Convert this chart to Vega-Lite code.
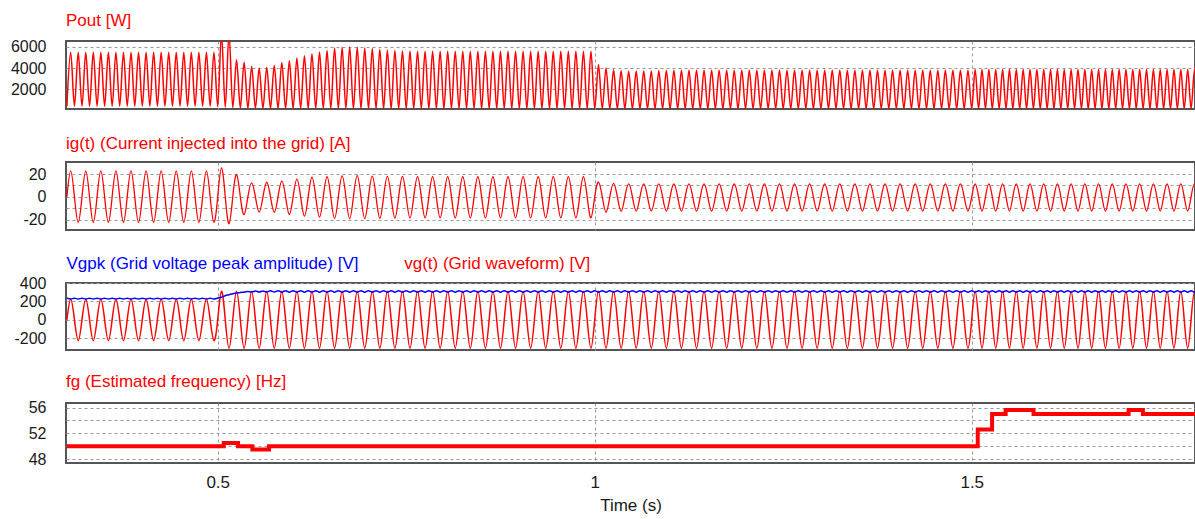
{
"$schema":"https://vega.github.io/schema/vega-lite/v6.json",
"padding":{"left":9,"top":10,"right":0,"bottom":4},
"background":"white",
"bounds":"flush",
"spacing":53,
"config":{
 "font":"Liberation Sans",
 "view":{"stroke":"#555","strokeWidth":2},
 "axis":{"gridColor":"#999","gridDash":[3,3],"gridWidth":1,"ticks":false,"domain":false,"labelFontSize":16,"labelColor":"#1a1a1a","labelPadding":20,"title":null},
 "title":{"anchor":"start","frame":"group","fontSize":17,"fontWeight":"normal","offset":9,"baseline":"alphabetic"}
},
"datasets":{
"s":[
{"t":0.3,"p":400,"i":0,"v":0,"g":234},{"t":0.305,"p":5500,"i":22.8,"v":222,"g":226},{"t":0.31,"p":400,"i":0,"v":0,"g":234},{"t":0.315,"p":5500,"i":-22.3,"v":-228,"g":226},
{"t":0.32,"p":400,"i":0,"v":0,"g":234},{"t":0.325,"p":5500,"i":22.8,"v":222,"g":226},{"t":0.33,"p":400,"i":0,"v":0,"g":234},{"t":0.335,"p":5500,"i":-22.3,"v":-228,"g":226},
{"t":0.34,"p":400,"i":0,"v":0,"g":234},{"t":0.345,"p":5500,"i":22.8,"v":222,"g":226},{"t":0.35,"p":400,"i":0,"v":0,"g":234},{"t":0.355,"p":5500,"i":-22.3,"v":-228,"g":226},
{"t":0.36,"p":400,"i":0,"v":0,"g":234},{"t":0.365,"p":5500,"i":22.8,"v":222,"g":226},{"t":0.37,"p":400,"i":0,"v":0,"g":234},{"t":0.375,"p":5500,"i":-22.3,"v":-228,"g":226},
{"t":0.38,"p":400,"i":0,"v":0,"g":234},{"t":0.385,"p":5500,"i":22.8,"v":222,"g":226},{"t":0.39,"p":400,"i":0,"v":0,"g":234},{"t":0.395,"p":5500,"i":-22.3,"v":-228,"g":226},
{"t":0.4,"p":400,"i":0,"v":0,"g":234},{"t":0.405,"p":5500,"i":22.8,"v":222,"g":226},{"t":0.41,"p":400,"i":0,"v":0,"g":234},{"t":0.415,"p":5500,"i":-22.3,"v":-228,"g":226},
{"t":0.42,"p":400,"i":0,"v":0,"g":234},{"t":0.425,"p":5500,"i":22.8,"v":222,"g":226},{"t":0.43,"p":400,"i":0,"v":0,"g":234},{"t":0.435,"p":5500,"i":-22.3,"v":-228,"g":226},
{"t":0.44,"p":400,"i":0,"v":0,"g":234},{"t":0.445,"p":5500,"i":22.8,"v":222,"g":226},{"t":0.45,"p":400,"i":0,"v":0,"g":234},{"t":0.455,"p":5500,"i":-22.3,"v":-228,"g":226},
{"t":0.46,"p":400,"i":0,"v":0,"g":234},{"t":0.465,"p":5500,"i":22.8,"v":222,"g":226},{"t":0.47,"p":400,"i":0,"v":0,"g":234},{"t":0.475,"p":5500,"i":-22.3,"v":-228,"g":226},
{"t":0.48,"p":400,"i":0,"v":0,"g":234},{"t":0.485,"p":5500,"i":22.8,"v":222,"g":226},{"t":0.49,"p":400,"i":0,"v":0,"g":234},{"t":0.495,"p":5500,"i":-22.3,"v":-228,"g":226},
{"t":0.5,"p":380,"i":0,"v":0,"g":236},{"t":0.505,"p":7300,"i":25.3,"v":310,"g":245},{"t":0.51,"p":300,"i":0,"v":0,"g":262},{"t":0.515,"p":7300,"i":-23.5,"v":-310,"g":272},
{"t":0.52,"p":250,"i":0,"v":0,"g":284},{"t":0.525,"p":4800,"i":19.5,"v":310,"g":290},{"t":0.53,"p":220,"i":0,"v":0,"g":297},{"t":0.535,"p":4550,"i":-15.5,"v":-310,"g":300},
{"t":0.54,"p":200,"i":0,"v":0,"g":308},{"t":0.545,"p":4160,"i":12.3,"v":310,"g":302},{"t":0.55,"p":200,"i":0,"v":0,"g":312},{"t":0.555,"p":4000,"i":-13.4,"v":-310,"g":302},
{"t":0.56,"p":200,"i":0,"v":0,"g":314},{"t":0.565,"p":4070,"i":12.8,"v":310,"g":301},{"t":0.57,"p":200,"i":0,"v":0,"g":315},{"t":0.575,"p":4260,"i":-13.5,"v":-310,"g":301},
{"t":0.58,"p":190,"i":0,"v":0,"g":316},{"t":0.585,"p":4540,"i":13.7,"v":310,"g":300},{"t":0.59,"p":190,"i":0,"v":0,"g":316},{"t":0.595,"p":4700,"i":-15.5,"v":-310,"g":300},
{"t":0.6,"p":180,"i":0,"v":0,"g":316},{"t":0.605,"p":4950,"i":15.5,"v":310,"g":300},{"t":0.61,"p":180,"i":0,"v":0,"g":316},{"t":0.615,"p":5180,"i":-16.9,"v":-310,"g":300},
{"t":0.62,"p":180,"i":0,"v":0,"g":316},{"t":0.625,"p":5370,"i":17.2,"v":310,"g":300},{"t":0.63,"p":180,"i":0,"v":0,"g":316},{"t":0.635,"p":5520,"i":-17.8,"v":-310,"g":300},
{"t":0.64,"p":180,"i":0,"v":0,"g":316},{"t":0.645,"p":5660,"i":17.6,"v":310,"g":300},{"t":0.65,"p":180,"i":0,"v":0,"g":316},{"t":0.655,"p":5900,"i":-19,"v":-310,"g":300},
{"t":0.66,"p":170,"i":0,"v":0,"g":316},{"t":0.665,"p":5970,"i":18.3,"v":310,"g":300},{"t":0.67,"p":170,"i":0,"v":0,"g":316},{"t":0.675,"p":6000,"i":-19.2,"v":-310,"g":300},
{"t":0.68,"p":160,"i":0,"v":0,"g":316},{"t":0.685,"p":5970,"i":18.5,"v":310,"g":300},{"t":0.69,"p":160,"i":0,"v":0,"g":316},{"t":0.695,"p":5900,"i":-19,"v":-310,"g":300},
{"t":0.7,"p":150,"i":0,"v":0,"g":316},{"t":0.705,"p":5850,"i":18.2,"v":310,"g":300},{"t":0.71,"p":150,"i":0,"v":0,"g":316},{"t":0.715,"p":5780,"i":-18.8,"v":-310,"g":300},
{"t":0.72,"p":150,"i":0,"v":0,"g":316},{"t":0.725,"p":5720,"i":18,"v":310,"g":300},{"t":0.73,"p":150,"i":0,"v":0,"g":316},{"t":0.735,"p":5680,"i":-18.6,"v":-310,"g":300},
{"t":0.74,"p":150,"i":0,"v":0,"g":316},{"t":0.745,"p":5650,"i":17.8,"v":310,"g":300},{"t":0.75,"p":150,"i":0,"v":0,"g":316},{"t":0.755,"p":5630,"i":-18.5,"v":-310,"g":300},
{"t":0.76,"p":150,"i":0,"v":0,"g":316},{"t":0.765,"p":5600,"i":17.6,"v":310,"g":300},{"t":0.77,"p":150,"i":0,"v":0,"g":316},{"t":0.775,"p":5600,"i":-18.4,"v":-310,"g":300},
{"t":0.78,"p":150,"i":0,"v":0,"g":316},{"t":0.785,"p":5600,"i":17.6,"v":310,"g":300},{"t":0.79,"p":150,"i":0,"v":0,"g":316},{"t":0.795,"p":5600,"i":-18.4,"v":-310,"g":300},
{"t":0.8,"p":150,"i":0,"v":0,"g":316},{"t":0.805,"p":5600,"i":17.6,"v":310,"g":300},{"t":0.81,"p":150,"i":0,"v":0,"g":316},{"t":0.815,"p":5600,"i":-18.4,"v":-310,"g":300},
{"t":0.82,"p":150,"i":0,"v":0,"g":316},{"t":0.825,"p":5600,"i":17.6,"v":310,"g":300},{"t":0.83,"p":150,"i":0,"v":0,"g":316},{"t":0.835,"p":5600,"i":-18.4,"v":-310,"g":300},
{"t":0.84,"p":150,"i":0,"v":0,"g":316},{"t":0.845,"p":5600,"i":17.6,"v":310,"g":300},{"t":0.85,"p":150,"i":0,"v":0,"g":316},{"t":0.855,"p":5600,"i":-18.4,"v":-310,"g":300},
{"t":0.86,"p":150,"i":0,"v":0,"g":316},{"t":0.865,"p":5600,"i":17.6,"v":310,"g":300},{"t":0.87,"p":150,"i":0,"v":0,"g":316},{"t":0.875,"p":5600,"i":-18.4,"v":-310,"g":300},
{"t":0.88,"p":150,"i":0,"v":0,"g":316},{"t":0.885,"p":5600,"i":17.6,"v":310,"g":300},{"t":0.89,"p":150,"i":0,"v":0,"g":316},{"t":0.895,"p":5600,"i":-18.4,"v":-310,"g":300},
{"t":0.9,"p":150,"i":0,"v":0,"g":316},{"t":0.905,"p":5600,"i":17.6,"v":310,"g":300},{"t":0.91,"p":150,"i":0,"v":0,"g":316},{"t":0.915,"p":5600,"i":-18.4,"v":-310,"g":300},
{"t":0.92,"p":150,"i":0,"v":0,"g":316},{"t":0.925,"p":5600,"i":17.6,"v":310,"g":300},{"t":0.93,"p":150,"i":0,"v":0,"g":316},{"t":0.935,"p":5600,"i":-18.4,"v":-310,"g":300},
{"t":0.94,"p":150,"i":0,"v":0,"g":316},{"t":0.945,"p":5600,"i":17.6,"v":310,"g":300},{"t":0.95,"p":150,"i":0,"v":0,"g":316},{"t":0.955,"p":5600,"i":-18.4,"v":-310,"g":300},
{"t":0.96,"p":150,"i":0,"v":0,"g":316},{"t":0.965,"p":5600,"i":17.6,"v":310,"g":300},{"t":0.97,"p":150,"i":0,"v":0,"g":316},{"t":0.975,"p":5600,"i":-18.4,"v":-310,"g":300},
{"t":0.98,"p":150,"i":0,"v":0,"g":316},{"t":0.985,"p":5600,"i":17.6,"v":310,"g":300},{"t":0.99,"p":150,"i":0,"v":0,"g":316},{"t":0.995,"p":5600,"i":-18.4,"v":-310,"g":300},
{"t":1,"p":150,"i":0,"v":0,"g":316},{"t":1.005,"p":4320,"i":12.8,"v":310,"g":300},{"t":1.01,"p":150,"i":0,"v":0,"g":316},{"t":1.015,"p":4000,"i":-13.5,"v":-310,"g":300},
{"t":1.02,"p":150,"i":0,"v":0,"g":316},{"t":1.025,"p":3840,"i":11.8,"v":310,"g":300},{"t":1.03,"p":150,"i":0,"v":0,"g":316},{"t":1.035,"p":3750,"i":-12.6,"v":-310,"g":300},
{"t":1.04,"p":150,"i":0,"v":0,"g":316},{"t":1.045,"p":3700,"i":11.4,"v":310,"g":300},{"t":1.05,"p":150,"i":0,"v":0,"g":316},{"t":1.055,"p":3700,"i":-12.4,"v":-310,"g":300},
{"t":1.06,"p":150,"i":0,"v":0,"g":316},{"t":1.065,"p":3720,"i":11.4,"v":310,"g":300},{"t":1.07,"p":150,"i":0,"v":0,"g":316},{"t":1.075,"p":3740,"i":-12.4,"v":-310,"g":300},
{"t":1.08,"p":150,"i":0,"v":0,"g":316},{"t":1.085,"p":3760,"i":11.4,"v":310,"g":300},{"t":1.09,"p":150,"i":0,"v":0,"g":316},{"t":1.095,"p":3780,"i":-12.4,"v":-310,"g":300},
{"t":1.1,"p":150,"i":0,"v":0,"g":316},{"t":1.105,"p":3800,"i":11.4,"v":310,"g":300},{"t":1.11,"p":150,"i":0,"v":0,"g":316},{"t":1.115,"p":3800,"i":-12.4,"v":-310,"g":300},
{"t":1.12,"p":150,"i":0,"v":0,"g":316},{"t":1.125,"p":3800,"i":11.4,"v":310,"g":300},{"t":1.13,"p":150,"i":0,"v":0,"g":316},{"t":1.135,"p":3800,"i":-12.4,"v":-310,"g":300},
{"t":1.14,"p":150,"i":0,"v":0,"g":316},{"t":1.145,"p":3800,"i":11.4,"v":310,"g":300},{"t":1.15,"p":150,"i":0,"v":0,"g":316},{"t":1.155,"p":3800,"i":-12.4,"v":-310,"g":300},
{"t":1.16,"p":150,"i":0,"v":0,"g":316},{"t":1.165,"p":3800,"i":11.4,"v":310,"g":300},{"t":1.17,"p":150,"i":0,"v":0,"g":316},{"t":1.175,"p":3800,"i":-12.4,"v":-310,"g":300},
{"t":1.18,"p":150,"i":0,"v":0,"g":316},{"t":1.185,"p":3800,"i":11.4,"v":310,"g":300},{"t":1.19,"p":150,"i":0,"v":0,"g":316},{"t":1.195,"p":3800,"i":-12.4,"v":-310,"g":300},
{"t":1.2,"p":150,"i":0,"v":0,"g":316},{"t":1.205,"p":3800,"i":11.4,"v":310,"g":300},{"t":1.21,"p":150,"i":0,"v":0,"g":316},{"t":1.215,"p":3800,"i":-12.4,"v":-310,"g":300},
{"t":1.22,"p":150,"i":0,"v":0,"g":316},{"t":1.225,"p":3800,"i":11.4,"v":310,"g":300},{"t":1.23,"p":150,"i":0,"v":0,"g":316},{"t":1.235,"p":3800,"i":-12.4,"v":-310,"g":300},
{"t":1.24,"p":150,"i":0,"v":0,"g":316},{"t":1.245,"p":3800,"i":11.4,"v":310,"g":300},{"t":1.25,"p":150,"i":0,"v":0,"g":316},{"t":1.255,"p":3800,"i":-12.4,"v":-310,"g":300},
{"t":1.26,"p":150,"i":0,"v":0,"g":316},{"t":1.265,"p":3800,"i":11.4,"v":310,"g":300},{"t":1.27,"p":150,"i":0,"v":0,"g":316},{"t":1.275,"p":3800,"i":-12.4,"v":-310,"g":300},
{"t":1.28,"p":150,"i":0,"v":0,"g":316},{"t":1.285,"p":3800,"i":11.4,"v":310,"g":300},{"t":1.29,"p":150,"i":0,"v":0,"g":316},{"t":1.295,"p":3800,"i":-12.4,"v":-310,"g":300},
{"t":1.3,"p":150,"i":0,"v":0,"g":316},{"t":1.305,"p":3800,"i":11.4,"v":310,"g":300},{"t":1.31,"p":150,"i":0,"v":0,"g":316},{"t":1.315,"p":3800,"i":-12.4,"v":-310,"g":300},
{"t":1.32,"p":150,"i":0,"v":0,"g":316},{"t":1.325,"p":3800,"i":11.4,"v":310,"g":300},{"t":1.33,"p":150,"i":0,"v":0,"g":316},{"t":1.335,"p":3800,"i":-12.4,"v":-310,"g":300},
{"t":1.34,"p":150,"i":0,"v":0,"g":316},{"t":1.345,"p":3800,"i":11.4,"v":310,"g":300},{"t":1.35,"p":150,"i":0,"v":0,"g":316},{"t":1.355,"p":3800,"i":-12.4,"v":-310,"g":300},
{"t":1.36,"p":150,"i":0,"v":0,"g":316},{"t":1.365,"p":3800,"i":11.4,"v":310,"g":300},{"t":1.37,"p":150,"i":0,"v":0,"g":316},{"t":1.375,"p":3800,"i":-12.4,"v":-310,"g":300},
{"t":1.38,"p":150,"i":0,"v":0,"g":316},{"t":1.385,"p":3800,"i":11.4,"v":310,"g":300},{"t":1.39,"p":150,"i":0,"v":0,"g":316},{"t":1.395,"p":3800,"i":-12.4,"v":-310,"g":300},
{"t":1.4,"p":150,"i":0,"v":0,"g":316},{"t":1.405,"p":3800,"i":11.4,"v":310,"g":300},{"t":1.41,"p":150,"i":0,"v":0,"g":316},{"t":1.415,"p":3800,"i":-12.4,"v":-310,"g":300},
{"t":1.42,"p":150,"i":0,"v":0,"g":316},{"t":1.425,"p":3800,"i":11.4,"v":310,"g":300},{"t":1.43,"p":150,"i":0,"v":0,"g":316},{"t":1.435,"p":3800,"i":-12.4,"v":-310,"g":300},
{"t":1.44,"p":150,"i":0,"v":0,"g":316},{"t":1.445,"p":3800,"i":11.4,"v":310,"g":300},{"t":1.45,"p":150,"i":0,"v":0,"g":316},{"t":1.455,"p":3800,"i":-12.4,"v":-310,"g":300},
{"t":1.46,"p":150,"i":0,"v":0,"g":316},{"t":1.465,"p":3800,"i":11.4,"v":310,"g":300},{"t":1.47,"p":150,"i":0,"v":0,"g":316},{"t":1.475,"p":3800,"i":-12.4,"v":-310,"g":300},
{"t":1.48,"p":150,"i":0,"v":0,"g":316},{"t":1.485,"p":3800,"i":11.4,"v":310,"g":300},{"t":1.49,"p":150,"i":0,"v":0,"g":316},{"t":1.495,"p":3800,"i":-12.4,"v":-310,"g":300},
{"t":1.5,"p":150,"i":0,"v":0,"g":316},
{"t":1.5045,"p":3880,"i":11.4,"v":310,"g":300},{"t":1.5091,"p":150,"i":0,"v":0,"g":316},{"t":1.5136,"p":3880,"i":-12.4,"v":-310,"g":300},{"t":1.5182,"p":150,"i":0,"v":0,"g":316},
{"t":1.5227,"p":3880,"i":11.4,"v":310,"g":300},{"t":1.5273,"p":150,"i":0,"v":0,"g":316},{"t":1.5318,"p":3880,"i":-12.4,"v":-310,"g":300},{"t":1.5364,"p":150,"i":0,"v":0,"g":316},
{"t":1.5409,"p":3880,"i":11.4,"v":310,"g":300},{"t":1.5455,"p":150,"i":0,"v":0,"g":316},{"t":1.55,"p":3880,"i":-12.4,"v":-310,"g":300},{"t":1.5545,"p":150,"i":0,"v":0,"g":316},
{"t":1.5591,"p":3880,"i":11.4,"v":310,"g":300},{"t":1.5636,"p":150,"i":0,"v":0,"g":316},{"t":1.5682,"p":3880,"i":-12.4,"v":-310,"g":300},{"t":1.5727,"p":150,"i":0,"v":0,"g":316},
{"t":1.5773,"p":3880,"i":11.4,"v":310,"g":300},{"t":1.5818,"p":150,"i":0,"v":0,"g":316},{"t":1.5864,"p":3880,"i":-12.4,"v":-310,"g":300},{"t":1.5909,"p":150,"i":0,"v":0,"g":316},
{"t":1.5955,"p":3880,"i":11.4,"v":310,"g":300},{"t":1.6,"p":150,"i":0,"v":0,"g":316},{"t":1.6045,"p":3880,"i":-12.4,"v":-310,"g":300},{"t":1.6091,"p":150,"i":0,"v":0,"g":316},
{"t":1.6136,"p":3880,"i":11.4,"v":310,"g":300},{"t":1.6182,"p":150,"i":0,"v":0,"g":316},{"t":1.6227,"p":3880,"i":-12.4,"v":-310,"g":300},{"t":1.6273,"p":150,"i":0,"v":0,"g":316},
{"t":1.6318,"p":3880,"i":11.4,"v":310,"g":300},{"t":1.6364,"p":150,"i":0,"v":0,"g":316},{"t":1.6409,"p":3880,"i":-12.4,"v":-310,"g":300},{"t":1.6455,"p":150,"i":0,"v":0,"g":316},
{"t":1.65,"p":3880,"i":11.4,"v":310,"g":300},{"t":1.6545,"p":150,"i":0,"v":0,"g":316},{"t":1.6591,"p":3880,"i":-12.4,"v":-310,"g":300},{"t":1.6636,"p":150,"i":0,"v":0,"g":316},
{"t":1.6682,"p":3880,"i":11.4,"v":310,"g":300},{"t":1.6727,"p":150,"i":0,"v":0,"g":316},{"t":1.6773,"p":3880,"i":-12.4,"v":-310,"g":300},{"t":1.6818,"p":150,"i":0,"v":0,"g":316},
{"t":1.6864,"p":3880,"i":11.4,"v":310,"g":300},{"t":1.6909,"p":150,"i":0,"v":0,"g":316},{"t":1.6955,"p":3880,"i":-12.4,"v":-310,"g":300},{"t":1.7,"p":150,"i":0,"v":0,"g":316},
{"t":1.7045,"p":3880,"i":11.4,"v":310,"g":300},{"t":1.7091,"p":150,"i":0,"v":0,"g":316},{"t":1.7136,"p":3880,"i":-12.4,"v":-310,"g":300},{"t":1.7182,"p":150,"i":0,"v":0,"g":316},
{"t":1.7227,"p":3880,"i":11.4,"v":310,"g":300},{"t":1.7273,"p":150,"i":0,"v":0,"g":316},{"t":1.7318,"p":3880,"i":-12.4,"v":-310,"g":300},{"t":1.7364,"p":150,"i":0,"v":0,"g":316},
{"t":1.7409,"p":3880,"i":11.4,"v":310,"g":300},{"t":1.7455,"p":150,"i":0,"v":0,"g":316},{"t":1.75,"p":3880,"i":-12.4,"v":-310,"g":300},{"t":1.7545,"p":150,"i":0,"v":0,"g":316},
{"t":1.7591,"p":3880,"i":11.4,"v":310,"g":300},{"t":1.7636,"p":150,"i":0,"v":0,"g":316},{"t":1.7682,"p":3880,"i":-12.4,"v":-310,"g":300},{"t":1.7727,"p":150,"i":0,"v":0,"g":316},
{"t":1.7773,"p":3880,"i":11.4,"v":310,"g":300},{"t":1.7818,"p":150,"i":0,"v":0,"g":316},{"t":1.7864,"p":3880,"i":-12.4,"v":-310,"g":300},{"t":1.7909,"p":150,"i":0,"v":0,"g":316},
{"t":1.7955,"p":3880,"i":11.4,"v":310,"g":300},{"t":1.8,"p":150,"i":0,"v":0,"g":316}
],
"f":[
{"t":0.3,"f":50},{"t":0.508,"f":50.5},{"t":0.527,"f":50},{"t":0.546,"f":49.5},{"t":0.568,"f":50},{"t":1.508,"f":52.6},{"t":1.527,"f":55.0},{"t":1.545,"f":55.6},{"t":1.582,"f":55.0},{"t":1.708,"f":55.6},{"t":1.727,"f":55.0},{"t":1.8,"f":55.0}
]
},
"vconcat":[
{
 "title":{"text":"Pout [W]","color":"red"},
 "width":1129,"height":68,
 "data":{"name":"s"},
 "mark":{"type":"line","color":"red","strokeWidth":1.5,"interpolate":"monotone","clip":true},
 "encoding":{
  "x":{"field":"t","type":"quantitative","scale":{"domain":[0.2988,1.7961],"nice":false,"zero":false},"axis":{"values":[0.5,1,1.5],"labels":false}},
  "y":{"field":"p","type":"quantitative","scale":{"domain":[137,6567],"nice":false,"zero":false},"axis":{"values":[2000,4000,6000],"format":"d"}}
 }
},
{
 "title":{"text":"ig(t) (Current injected into the grid) [A]","color":"red"},
 "width":1129,"height":68,
 "data":{"name":"s"},
 "mark":{"type":"line","color":"red","strokeWidth":1.3,"interpolate":"natural","clip":true},
 "encoding":{
  "x":{"field":"t","type":"quantitative","scale":{"domain":[0.2988,1.7961],"nice":false,"zero":false},"axis":{"values":[0.5,1,1.5],"labels":false}},
  "y":{"field":"i","type":"quantitative","scale":{"domain":[-29,30.5],"nice":false,"zero":false},"axis":{"values":[-20,-10,0,10,20],"labelExpr":"datum.value % 20 === 0 ? '' + datum.value : ''"}}
 }
},
{
 "width":1129,"height":67,
 "data":{"name":"s"},
 "encoding":{
  "x":{"field":"t","type":"quantitative","scale":{"domain":[0.2988,1.7961],"nice":false,"zero":false},"axis":{"orient":"top","values":[0.5,1,1.5],"labels":false,"title":"Vgpk (Grid voltage peak amplitude) [V]","titleColor":"blue","titleFontSize":17,"titleFontWeight":"normal","titleAlign":"left","titleAnchor":"start","titleX":0,"titleY":-15,"titleBaseline":"alphabetic"}}
 },
 "layer":[
  {"mark":{"type":"line","color":"red","strokeWidth":1.5,"interpolate":"natural","clip":true},
   "encoding":{"y":{"field":"v","type":"quantitative","scale":{"domain":[-330,400],"nice":false,"zero":false},"axis":{"values":[-200,0,200,400],"labelExpr":"'' + datum.value","title":"vg(t) (Grid waveform) [V]","titleColor":"red","titleFontSize":17,"titleFontWeight":"normal","titleAngle":0,"titleAlign":"left","titleAnchor":"start","titleX":337.7,"titleY":-15,"titleBaseline":"alphabetic"}}}},
  {"mark":{"type":"line","color":"blue","strokeWidth":1.5,"interpolate":"monotone","clip":true},
   "encoding":{"y":{"field":"g","type":"quantitative","scale":{"domain":[-330,400],"nice":false,"zero":false},"axis":{"values":[-200,0,200,400],"labelExpr":"'' + datum.value","title":"vg(t) (Grid waveform) [V]","titleColor":"red","titleFontSize":17,"titleFontWeight":"normal","titleAngle":0,"titleAlign":"left","titleAnchor":"start","titleX":337.7,"titleY":-15,"titleBaseline":"alphabetic"}}}}
 ]
},
{
 "title":{"text":"fg (Estimated frequency) [Hz]","color":"red"},
 "width":1129,"height":60,
 "data":{"name":"f"},
 "mark":{"type":"line","color":"red","strokeWidth":4,"interpolate":"step-after","clip":true},
 "encoding":{
  "x":{"field":"t","type":"quantitative","scale":{"domain":[0.2988,1.7961],"nice":false,"zero":false},"axis":{"values":[0.5,1,1.5],"format":"~g","labelFontSize":17,"labelPadding":11,"title":"Time (s)","titleFontSize":17,"titleFontWeight":"normal","titleColor":"#1a1a1a","titlePadding":7}},
  "y":{"field":"f","type":"quantitative","scale":{"domain":[47.4,56.7],"nice":false,"zero":false},"axis":{"values":[48,50,52,54,56],"labelExpr":"datum.value % 4 === 0 ? datum.label : ''"}}
 }
}
]
}
